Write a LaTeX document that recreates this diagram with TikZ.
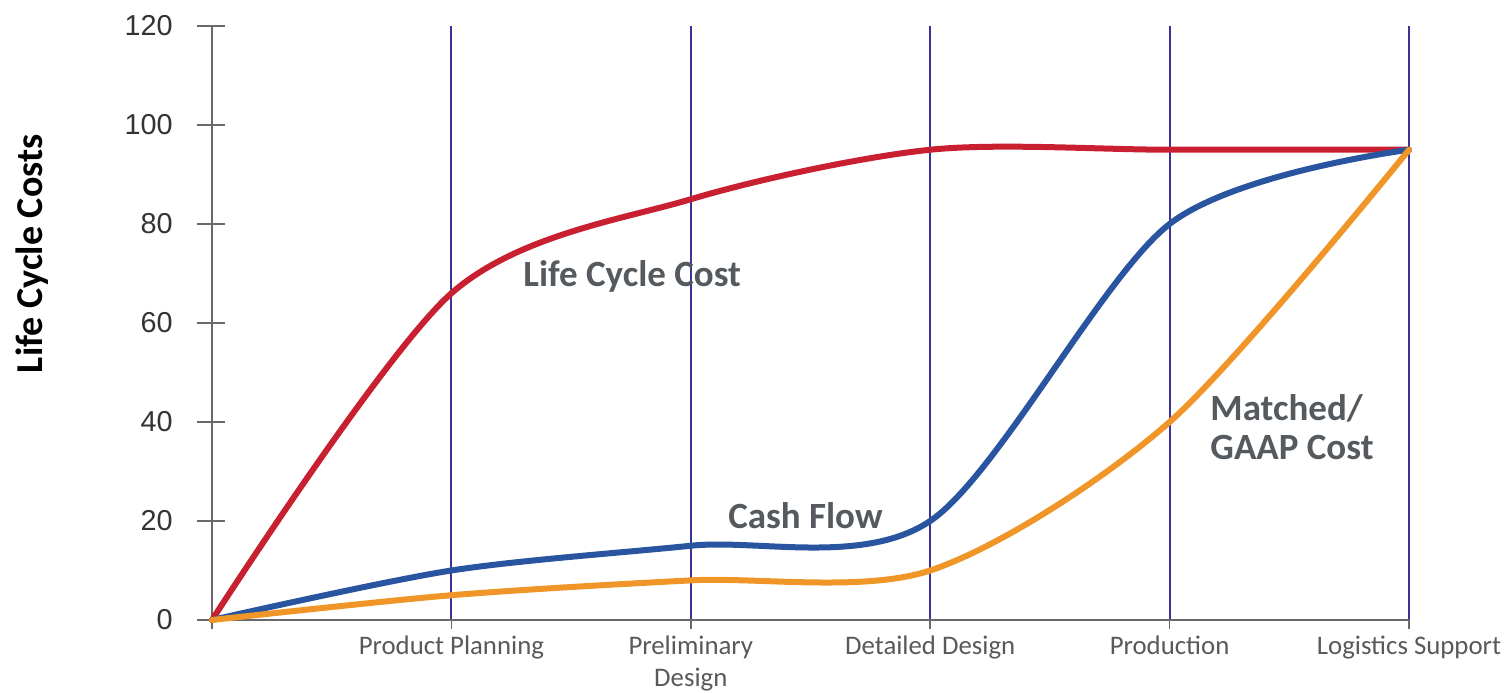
\documentclass[tikz,border=0pt]{standalone}
\usepackage{fontspec}
\setmainfont{Carlito}
\newfontfamily\numfont{Liberation Sans}
\usetikzlibrary{positioning}
\definecolor{lccred}{RGB}{200,32,48}
\definecolor{cashblue}{RGB}{40,84,160}
\definecolor{gaaporange}{RGB}{240,150,40}
\definecolor{phaseblue}{RGB}{58,52,150}
\definecolor{axisgray}{RGB}{105,105,105}
\definecolor{textgray}{RGB}{85,90,95}
\tikzset{
	axis/.style={axisgray, line width=0.8pt}, % axes and ticks
	phase/.style={phaseblue, line width=1pt}, % vertical phase lines
	curve/.style={line width=3pt, smooth, tension=0.5, line join=round, line cap=round}, % cost curves
	ylab/.style={anchor=east, inner sep=0pt, text=black!80, font=\numfont\fontsize{14.4}{16}\selectfont},
	phaselab/.style={anchor=north, inner sep=3pt, align=center, text=black!65, font=\fontsize{13.4}{16}\selectfont},
	curvelab/.style={anchor=west, inner sep=0pt, align=left, text=textgray, font=\bfseries\fontsize{18.5}{19.5}\selectfont},
}
\begin{document}
\begin{tikzpicture}[x=119.7pt, y=2.475pt]
	\useasboundingbox (-0.8856,-14.747) rectangle (5.4094,125.25);
	% Phase lines
	\foreach \i in {1,...,5}
		\draw[phase] (\i,0) -- (\i,120);
	% Axes and ticks
	\draw[axis] (0,0) -- (5,0);
	\draw[axis] (0,0) -- (0,120);
	\foreach \v in {0,20,...,120} {
		\draw[axis] ([xshift=-7.5pt]0,\v) -- ([xshift=6.5pt]0,\v);
		\node[ylab] (y\v) at ([xshift=-19.5pt]0,\v) {\v};
	}
	\foreach \i in {0,...,5}
		\draw[axis] (\i,0) -- ([yshift=-4.5pt]\i,0);
	% Phase labels
	\node[phaselab] (pp) at ([yshift=-4.6pt]1,0) {Product Planning};
	\node[phaselab] (pd) at ([yshift=-4.6pt]2,0) {Preliminary\\Design};
	\node[phaselab] (dd) at ([yshift=-4.6pt]3,0) {Detailed Design};
	\node[phaselab] (pr) at ([yshift=-4.6pt]4,0) {Production};
	\node[phaselab] (ls) at ([yshift=-4.6pt]5,0) {Logistics Support};
	\node[rotate=90, anchor=base, text=black, font=\bfseries\fontsize{19}{22}\selectfont] (ytitle) at (-0.706,74) {Life Cycle Costs};
	% Curves
	\draw[curve, lccred] plot coordinates {(0,0) (1,66) (2,85) (3,95) (4,95) (5,95)};
	\draw[curve, cashblue] plot coordinates {(0,0) (1,10) (2,15) (3,20) (4,80) (5,95)};
	\draw[curve, gaaporange] plot coordinates {(0,0) (1,5) (2,8) (3,10) (4,40) (5,95)};
	% Curve labels
	\node[curvelab] (lcc) at (1.299,69.5) {Life Cycle Cost};
	\node[curvelab] (cash) at (2.155,21) {Cash Flow};
	\node[curvelab] (gaap) at (4.169,38.9) {Matched/\\GAAP Cost};
\end{tikzpicture}
\end{document}
